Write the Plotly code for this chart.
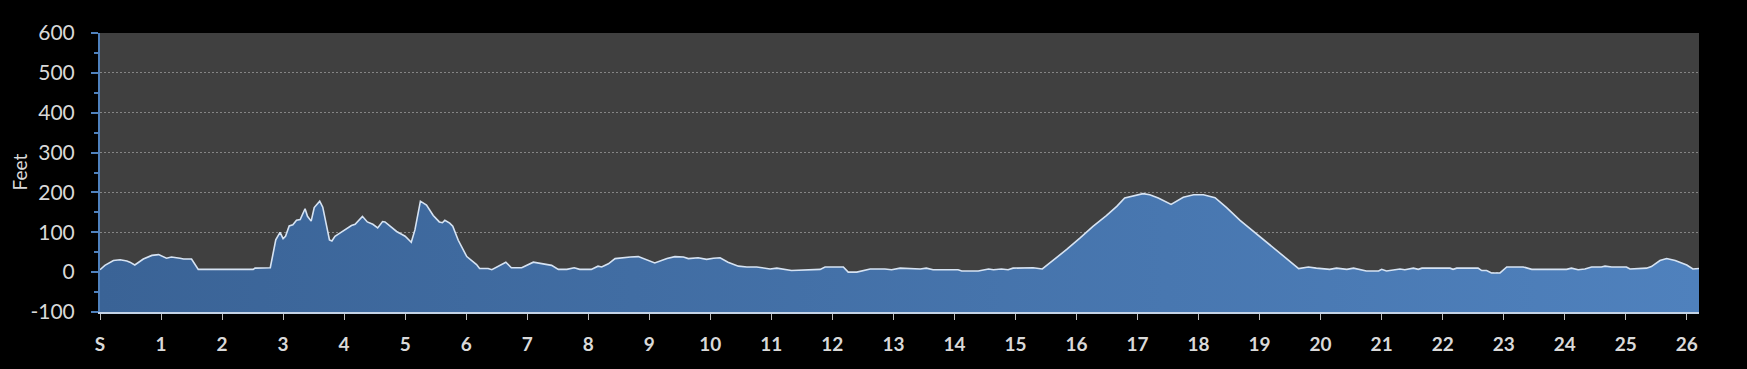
import plotly.graph_objects as go

miles = [0.00, 0.08, 0.22, 0.33, 0.44, 0.49, 0.57, 0.66, 0.71, 0.85, 0.96, 1.09, 1.17, 1.31, 1.37, 1.50,
         1.56, 1.61, 2.51, 2.54, 2.79, 2.84, 2.88, 2.95, 3.00, 3.04, 3.10, 3.16, 3.22, 3.28, 3.32, 3.36,
         3.40, 3.46, 3.51, 3.60, 3.65, 3.70, 3.76, 3.80, 3.85, 3.93, 4.04, 4.12, 4.18, 4.30, 4.38, 4.47,
         4.55, 4.63, 4.67, 4.75, 4.86, 5.00, 5.10, 5.16, 5.25, 5.35, 5.46, 5.56, 5.61, 5.65, 5.73, 5.78,
         5.87, 6.01, 6.15, 6.17, 6.22, 6.36, 6.42, 6.53, 6.65, 6.74, 6.91, 7.10, 7.29, 7.40, 7.51, 7.65,
         7.77, 7.86, 8.05, 8.16, 8.22, 8.33, 8.44, 8.55, 8.69, 8.82, 8.96, 9.09, 9.29, 9.42, 9.56, 9.64,
         9.80, 9.94, 10.05, 10.16, 10.29, 10.46, 10.60, 10.76, 10.98, 11.09, 11.33, 11.80, 11.88, 12.18,
         12.26, 12.40, 12.62, 12.86, 12.97, 13.11, 13.44, 13.54, 13.65, 14.06, 14.12, 14.39, 14.56, 14.64,
         14.77, 14.88, 14.96, 15.29, 15.44, 15.62, 15.84, 16.06, 16.27, 16.49, 16.66, 16.79, 16.93, 17.09,
         17.20, 17.34, 17.55, 17.75, 17.92, 18.08, 18.27, 18.46, 18.68, 18.90, 19.12, 19.33, 19.50, 19.64,
         19.80, 19.93, 20.15, 20.26, 20.43, 20.54, 20.75, 20.95, 21.00, 21.08, 21.30, 21.38, 21.52, 21.60,
         21.66, 22.12, 22.17, 22.23, 22.58, 22.64, 22.72, 22.80, 22.94, 23.05, 23.32, 23.46, 24.03, 24.11,
         24.22, 24.33, 24.44, 24.60, 24.66, 24.77, 25.01, 25.07, 25.34, 25.42, 25.56, 25.67, 25.81, 26.00,
         26.10, 26.20]
elevation = [6, 17, 29, 31, 28, 25, 18, 27, 33, 42, 44, 35, 38, 35, 33, 33,
             17, 7, 7, 10, 11, 46, 81, 100, 84, 90, 116, 119, 130, 132, 147, 159,
             140, 128, 162, 178, 163, 121, 81, 78, 90, 98, 109, 117, 120, 140, 126, 120,
             111, 127, 126, 116, 102, 90, 75, 106, 178, 168, 142, 126, 124, 130, 123, 115,
             80, 39, 21, 19, 9, 9, 6, 15, 25, 11, 11, 25, 21, 17, 7, 7,
             11, 7, 7, 15, 13, 21, 34, 36, 38, 39, 31, 23, 34, 39, 38, 34,
             36, 32, 35, 36, 25, 15, 13, 13, 8, 10, 4, 7, 13, 13,
             0, 0, 8, 8, 6, 10, 8, 10, 6, 6, 3, 3, 8, 6,
             8, 6, 10, 11, 8, 29, 57, 86, 115, 142, 165, 186, 191, 197,
             194, 186, 170, 188, 194, 194, 187, 162, 130, 102, 75, 48, 28, 9,
             13, 10, 7, 10, 7, 10, 3, 3, 7, 3, 8, 6, 10, 7,
             10, 10, 7, 10, 10, 4, 4, -2, -2, 13, 13, 7, 7, 10,
             6, 8, 13, 13, 15, 13, 13, 8, 10, 14, 29, 34, 29, 18,
             8, 9]

x_ticks = list(range(0, 27))
x_labels = ["S"] + [str(i) for i in range(1, 27)]
y_ticks = [-100, 0, 100, 200, 300, 400, 500, 600]
y_labels = ["-100", "0", "100", "200", "300", "400", "500", "600"]
y_title = "Feet"

fig = go.Figure()
fig.add_trace(go.Scatter(x=miles, y=[-100] * len(miles), mode="lines",
                         line=dict(width=0), hoverinfo="skip", showlegend=False))
fig.add_trace(go.Scatter(
    x=miles, y=elevation, mode="lines", fill="tonexty",
    line=dict(color="#d6e3f3", width=1.6),
    fillgradient=dict(type="horizontal",
                      colorscale=[[0, "#3a6396"], [1, "#4f81bd"]]),
    showlegend=False))

fig.add_annotation(text=y_title, xref="paper", yref="paper",
                   x=(19 - 100) / 1599, y=0.5, xanchor="center", yanchor="middle",
                   textangle=-90, showarrow=False,
                   font=dict(size=19, color="#d9d9d9", family="Lato, sans-serif"))

fig.update_layout(
    width=1747, height=369,
    paper_bgcolor="black", plot_bgcolor="#404040",
    margin=dict(l=100, r=48, t=33, b=57),
    font=dict(family="Lato, Open Sans, sans-serif", color="#d9d9d9"),
    xaxis=dict(range=[0, 26.2], tickvals=x_ticks, ticktext=x_labels,
               showgrid=False, zeroline=False, automargin=False,
               showline=True, linecolor="#c4d3e6", linewidth=2,
               ticks="outside", ticklen=6, tickcolor="#bfbfbf", tickwidth=1,
               ticklabelstandoff=8,
               tickfont=dict(size=19, color="#d9d9d9", family="Lato, sans-serif", weight="bold"),
               ),
    yaxis=dict(range=[-100, 600], tickvals=y_ticks, ticktext=y_labels,
               showgrid=True, gridcolor="#858585", griddash="2px,2px", gridwidth=1,
               zeroline=False, showline=True, linecolor="#4f81bd", linewidth=2,
               automargin=False,
               ticks="outside", ticklen=7, tickcolor="#4f81bd", tickwidth=2,
               ticklabelstandoff=12,
               minor=dict(dtick=50, ticks="outside", ticklen=4, tickcolor="#4f81bd",
                          tickwidth=2, showgrid=False),
               tickfont=dict(size=21, color="#d9d9d9")),
)

fig.write_html("out.html")
